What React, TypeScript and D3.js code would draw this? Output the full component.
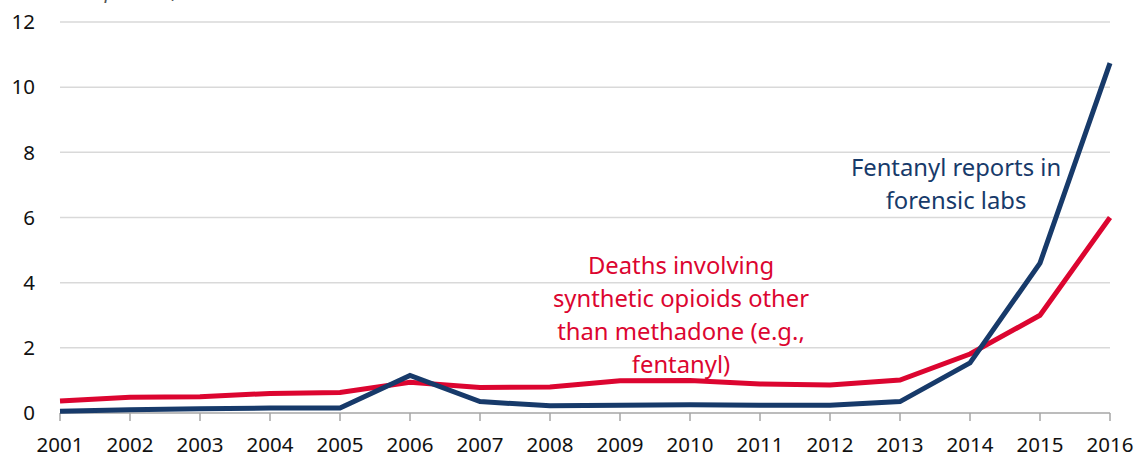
import React from "react";
import * as d3 from "d3";

// Years on the x axis
const years: number[] = [2001, 2002, 2003, 2004, 2005, 2006, 2007, 2008, 2009, 2010, 2011, 2012, 2013, 2014, 2015, 2016];

// Fentanyl reports in forensic labs (per 100,000)
const fentanylReports: number[] = [0.05, 0.1, 0.13, 0.15, 0.15, 1.15, 0.35, 0.22, 0.24, 0.25, 0.24, 0.24, 0.35, 1.54, 4.6, 10.74];

// Deaths involving synthetic opioids other than methadone (per 100,000)
const syntheticDeaths: number[] = [0.37, 0.48, 0.5, 0.6, 0.63, 0.94, 0.78, 0.8, 0.99, 1.0, 0.89, 0.86, 1.01, 1.81, 3.0, 6.0];

const yTicks: number[] = [0, 2, 4, 6, 8, 10, 12];

const blueLabel: string[] = ["Fentanyl reports in", "forensic labs"];
const redLabel: string[] = ["Deaths involving", "synthetic opioids other", "than methadone (e.g.,", "fentanyl)"];

const W = 1139;
const H = 457;
const BLUE = "#173a6a";
const RED = "#dc0530";
const FONT = "'Source Sans Pro', 'Noto Sans', 'Open Sans', sans-serif";

export default function App() {
  const x = d3.scaleLinear().domain([2001, 2016]).range([60, 1110]);
  const y = d3.scaleLinear().domain([0, 12]).range([413, 22]);

  const line = d3
    .line<[number, number]>()
    .x((d) => x(d[0]))
    .y((d) => y(d[1]));

  const blueData = years.map((yr, i) => [yr, fentanylReports[i]] as [number, number]);
  const redData = years.map((yr, i) => [yr, syntheticDeaths[i]] as [number, number]);

  return (
    <svg
      width={W}
      height={H}
      style={{ position: "absolute", left: 0, top: 0, background: "#fff" }}
      fontFamily={FONT}
    >
      {/* axis caption, sitting mostly above the top edge */}
      <text x={60} y={-2} fontSize={20} fontStyle="italic" fill="#555">
        Rate per 100,000
      </text>

      {/* horizontal gridlines */}
      {yTicks
        .filter((t) => t > 0)
        .map((t) => (
          <line key={t} x1={x(2001)} x2={x(2016)} y1={y(t)} y2={y(t)} stroke="#d9d9d9" strokeWidth={1.5} />
        ))}

      {/* y tick labels */}
      {yTicks.map((t) => (
        <text key={t} x={35} y={y(t)} dy="0.35em" textAnchor="end" fontSize={20.5} fill="#111">
          {t}
        </text>
      ))}

      {/* x axis */}
      <line x1={x(2001)} x2={x(2016)} y1={y(0)} y2={y(0)} stroke="#a6a6a6" strokeWidth={1.5} />
      {years.map((yr) => (
        <g key={yr}>
          <line x1={x(yr)} x2={x(yr)} y1={y(0)} y2={y(0) + 8} stroke="#a6a6a6" strokeWidth={1.5} />
          <text x={x(yr)} y={452} textAnchor="middle" fontSize={20.5} fill="#111">
            {yr}
          </text>
        </g>
      ))}

      {/* series */}
      <path d={line(redData) ?? ""} fill="none" stroke={RED} strokeWidth={5} strokeLinejoin="miter" />
      <path d={line(blueData) ?? ""} fill="none" stroke={BLUE} strokeWidth={5} strokeLinejoin="miter" />

      {/* series labels */}
      {blueLabel.map((s, i) => (
        <text key={s} x={956} y={176 + i * 33} textAnchor="middle" fontSize={23.8} fill={BLUE}>
          {s}
        </text>
      ))}
      {redLabel.map((s, i) => (
        <text key={s} x={681} y={274 + i * 33} textAnchor="middle" fontSize={23.8} fill={RED}>
          {s}
        </text>
      ))}
    </svg>
  );
}
